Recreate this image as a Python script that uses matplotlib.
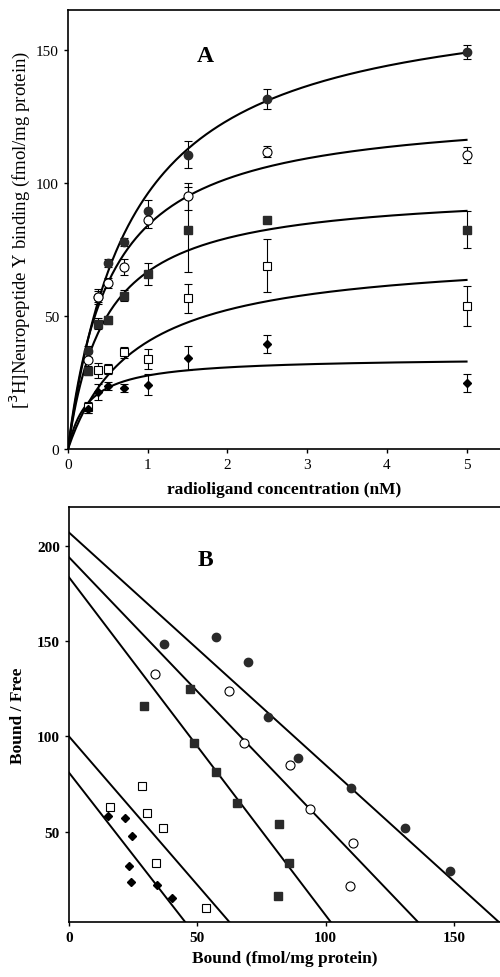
import numpy as np
import matplotlib
matplotlib.use("Agg")
import matplotlib.pyplot as plt

plt.rcParams['font.family'] = ['Liberation Serif', 'DejaVu Serif']

# panel A: saturation binding
conc = [0.25, 0.375, 0.5, 0.7, 1.0, 1.5, 2.5, 5.0]
filled_circle = [36.7, 57.2, 69.8, 77.9, 89.4, 110.6, 131.6, 149.2]
open_circle = [33.5, 57.3, 62.4, 68.4, 86.0, 95.0, 111.8, 110.4]
filled_square = [29.4, 47.1, 48.6, 57.6, 65.8, 82.4, 86.0, 82.4]
open_square = [15.6, 29.5, 30.0, 36.3, 33.8, 56.6, 68.9, 53.6]
diamond = [15.0, 21.5, 23.8, 22.8, 24.1, 34.1, 39.5, 24.9]

err_fc = [2, 2, 1.5, 1.5, 4, 5, 3.7, 2.8]
err_oc = [2.5, 3, 2, 3, 3, 5, 2, 3]
err_fs = [1.5, 2, 1.5, 2, 4, 16, 1, 7]
err_os = [2, 3, 2, 2, 3.6, 5.5, 10, 7.5]
err_d = [1.5, 3, 1.5, 1.5, 4, 4.5, 3.4, 3.3]

# fitted hyperbolas (Bmax, Kd)
fit_fc = (172.8, 0.80)
fit_oc = (128.5, 0.53)
fit_fs = (97.9, 0.47)
fit_os = (74.2, 0.84)
fit_d = (34.5, 0.25)

# panel B: Scatchard
b_fc = [37.2, 57.2, 69.8, 77.6, 89.1, 109.8, 130.9, 148.6]
bf_fc = [148.4, 152.4, 138.8, 110.0, 88.5, 72.7, 51.8, 29.2]
b_oc = [33.6, 62.2, 68.1, 86.0, 94.1, 110.7, 109.5]
bf_oc = [133.0, 123.6, 96.5, 85.1, 62.0, 43.9, 21.7]
b_fs = [29.4, 47.3, 48.7, 57.4, 65.6, 81.9, 85.7, 81.5]
bf_fs = [115.9, 124.8, 96.5, 81.1, 65.0, 54.0, 33.6, 16.0]
b_os = [16.0, 28.4, 30.3, 36.8, 34.1, 53.4]
bf_os = [62.8, 74.1, 59.8, 51.8, 33.4, 9.8]
b_d = [15.1, 21.9, 24.5, 23.3, 24.2, 34.2, 40.1]
bf_d = [58.4, 57.0, 47.9, 32.1, 23.8, 22.0, 15.2]

# Scatchard lines (y-intercept, x-intercept)
lines_b = [(207, 169.7), (194, 137.9), (183.5, 103.5), (100, 64.2), (81, 46.8)]

dark = '#2a2a2a'
styles = [
    dict(marker='o', mfc=dark, mec=dark, ms=6),
    dict(marker='o', mfc='white', mec='black', ms=6.5, mew=0.8),
    dict(marker='s', mfc=dark, mec=dark, ms=5.5),
    dict(marker='s', mfc='white', mec='black', ms=6, mew=0.8),
    dict(marker='D', mfc='black', mec='black', ms=4.5),
]

fig = plt.figure(figsize=(5, 9.78), dpi=100)

axA = fig.add_axes([0.136, 0.5399, 0.864, 0.4489])
axB = fig.add_axes([0.138, 0.0562, 0.862, 0.4244])

xs = np.linspace(0, 5, 200)
for (bmax, kd) in [fit_fc, fit_oc, fit_fs, fit_os, fit_d]:
    axA.plot(xs, bmax * xs / (kd + xs), color='black', lw=1.5, zorder=2)

seriesA = [(filled_square, err_fs, styles[2]), (open_square, err_os, styles[3]),
           (diamond, err_d, styles[4]), (filled_circle, err_fc, styles[0]),
           (open_circle, err_oc, styles[1])]
for vals, err, st in seriesA:
    axA.errorbar(conc, vals, yerr=err, fmt='none', ecolor='black',
                 elinewidth=0.8, capsize=3, capthick=0.8, zorder=3)
    axA.plot(conc, vals, ls='none', zorder=4, **st)

axA.set_xlim(0, 5.42)
axA.set_ylim(0, 165)
axA.set_xticks([0, 1, 2, 3, 4, 5])
axA.set_yticks([0, 50, 100, 150])
axA.tick_params(labelsize=11, width=1, length=3)
axA.set_xlabel('radioligand concentration (nM)', fontsize=12.5, fontweight='bold', labelpad=7)
axA.set_ylabel('[$^3$H]Neuropeptide Y binding (fmol/mg protein)', fontsize=13.5, labelpad=3)
axA.text(1.72, 148, 'A', fontsize=17, fontweight='bold', ha='center', va='center')
axA.spines['right'].set_visible(False)
for s in ['left', 'bottom', 'top']:
    axA.spines[s].set_linewidth(1.2)

xb = np.linspace(0, 200, 200)
for a, xi in lines_b:
    axB.plot(xb, a - a / xi * xb, color='black', lw=1.4, zorder=2)

seriesB = [(b_oc, bf_oc, styles[1]), (b_fc, bf_fc, styles[0]), (b_fs, bf_fs, styles[2]),
           (b_os, bf_os, styles[3]), (b_d, bf_d, styles[4])]
for bx, by, st in seriesB:
    axB.plot(bx, by, ls='none', zorder=4, **st)

axB.set_xlim(0, 168)
axB.set_ylim(2.6, 220.4)
axB.set_xticks([0, 50, 100, 150])
axB.set_yticks([50, 100, 150, 200])
axB.tick_params(labelsize=11, width=1, length=3)
for lab in axB.get_xticklabels() + axB.get_yticklabels():
    lab.set_fontweight('bold')
axB.set_xlabel('Bound (fmol/mg protein)', fontsize=12.5, fontweight='bold', labelpad=4)
axB.set_ylabel('Bound / Free', fontsize=12.5, fontweight='bold', labelpad=8)
axB.text(53, 193, 'B', fontsize=17, fontweight='bold', ha='center', va='center')
axB.spines['right'].set_visible(False)
for s in ['left', 'bottom', 'top']:
    axB.spines[s].set_linewidth(1.2)

fig.savefig('out.png', dpi=100)
